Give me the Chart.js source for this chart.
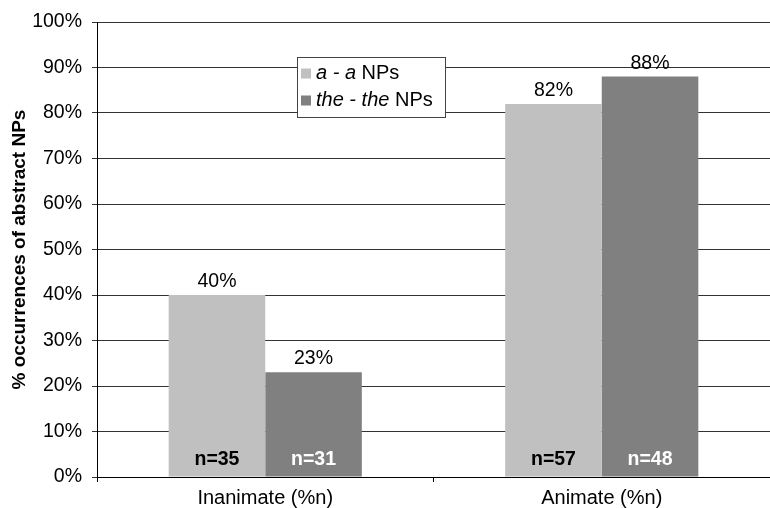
<!DOCTYPE html>
<html>
<head>
<meta charset="utf-8">
<script src="https://cdn.jsdelivr.net/npm/chart.js@4/dist/chart.umd.min.js"></script>
<style>
  html, body { margin: 0; padding: 0; background: #fff; }
  #wrap { width: 770px; height: 508px; position: relative; overflow: hidden; }
</style>
</head>
<body>
<div id="wrap"><canvas id="c" width="770" height="508"></canvas></div>
<script>
// Categories and series
const categories = ['Inanimate (%n)', 'Animate (%n)'];
const seriesNames = ['a - a NPs', 'the - the NPs'];
const aaValues = [40, 82];
const theTheValues = [23, 88];
const aaCounts = ['n=35', 'n=57'];
const theTheCounts = ['n=31', 'n=48'];
const yTicks = [0, 10, 20, 30, 40, 50, 60, 70, 80, 90, 100];

const FONT = '"Liberation Sans", Arial, Helvetica, sans-serif';
const LIGHT = '#c0c0c0';
const DARK = '#808080';

// Value labels above each bar and sample sizes inside the bar base
const barLabels = {
  id: 'barLabels',
  afterDatasetsDraw(chart) {
    const ctx = chart.ctx;
    const counts = [aaCounts, theTheCounts];
    const countColors = ['#000', '#fff'];
    ctx.save();
    chart.data.datasets.forEach((ds, di) => {
      const meta = chart.getDatasetMeta(di);
      meta.data.forEach((bar, i) => {
        ctx.textAlign = 'center';
        ctx.textBaseline = 'alphabetic';
        ctx.fillStyle = '#000';
        ctx.font = '19.5px ' + FONT;
        ctx.fillText(ds.data[i] + '%', bar.x, bar.y - 8);
        ctx.font = 'bold 19.5px ' + FONT;
        ctx.fillStyle = countColors[di];
        ctx.fillText(counts[di][i], bar.x, bar.base - 12);
      });
    });
    ctx.restore();
  }
};

// Boxed legend with italic article pairs
const boxLegend = {
  id: 'boxLegend',
  afterDraw(chart) {
    const ctx = chart.ctx;
    const x = 297, y = 57, w = 148, h = 60;
    ctx.save();
    ctx.fillStyle = '#fff';
    ctx.fillRect(x, y, w, h);
    ctx.strokeStyle = '#444';
    ctx.lineWidth = 1;
    ctx.strokeRect(x + 0.5, y + 0.5, w, h);
    const rows = [
      { color: LIGHT, italic: 'a - a', rest: ' NPs', cy: y + 16.5 },
      { color: DARK, italic: 'the - the', rest: ' NPs', cy: y + 43.5 }
    ];
    ctx.textBaseline = 'middle';
    ctx.textAlign = 'left';
    rows.forEach(r => {
      ctx.fillStyle = r.color;
      ctx.fillRect(x + 4, r.cy - 5, 10, 10);
      ctx.fillStyle = '#000';
      ctx.font = 'italic 20px ' + FONT;
      ctx.fillText(r.italic, x + 19, r.cy);
      const iw = ctx.measureText(r.italic).width;
      ctx.font = '20px ' + FONT;
      ctx.fillText(r.rest, x + 19 + iw, r.cy);
    });
    ctx.restore();
  }
};

new Chart(document.getElementById('c'), {
  type: 'bar',
  data: {
    labels: categories,
    datasets: [
      { label: seriesNames[0], data: aaValues, backgroundColor: LIGHT, borderWidth: 0 },
      { label: seriesNames[1], data: theTheValues, backgroundColor: DARK, borderWidth: 0 }
    ]
  },
  options: {
    responsive: false,
    animation: false,
    devicePixelRatio: 1,
    layout: { padding: { top: 22, right: -3, bottom: 0, left: 0 } },
    datasets: { bar: { categoryPercentage: 0.574, barPercentage: 1 } },
    plugins: {
      legend: { display: false },
      tooltip: { enabled: false }
    },
    scales: {
      x: {
        offset: true,
        grid: {
          offset: true,
          drawOnChartArea: false,
          drawTicks: true,
          tickLength: 5,
          color: '#000'
        },
        border: { color: '#000', width: 1 },
        ticks: { color: '#000', font: { family: FONT, size: 20 }, padding: 4 },
        afterFit(scale) { scale.height = 31; }
      },
      y: {
        min: 0,
        max: 100,
        afterBuildTicks(scale) { scale.ticks = yTicks.map(v => ({ value: v })); },
        grid: { color: '#333', tickLength: 5 },
        border: { color: '#000', width: 1 },
        ticks: {
          color: '#000',
          font: { family: FONT, size: 19.5 },
          padding: 10,
          callback: v => v + '%'
        },
        title: {
          display: true,
          text: '% occurrences of abstract NPs',
          color: '#000',
          font: { family: FONT, size: 19, weight: 'bold' },
          padding: { top: 8, bottom: 0 }
        },
        afterFit(scale) { scale.width = 97; }
      }
    }
  },
  plugins: [barLabels, boxLegend]
});
</script>
</body>
</html>
